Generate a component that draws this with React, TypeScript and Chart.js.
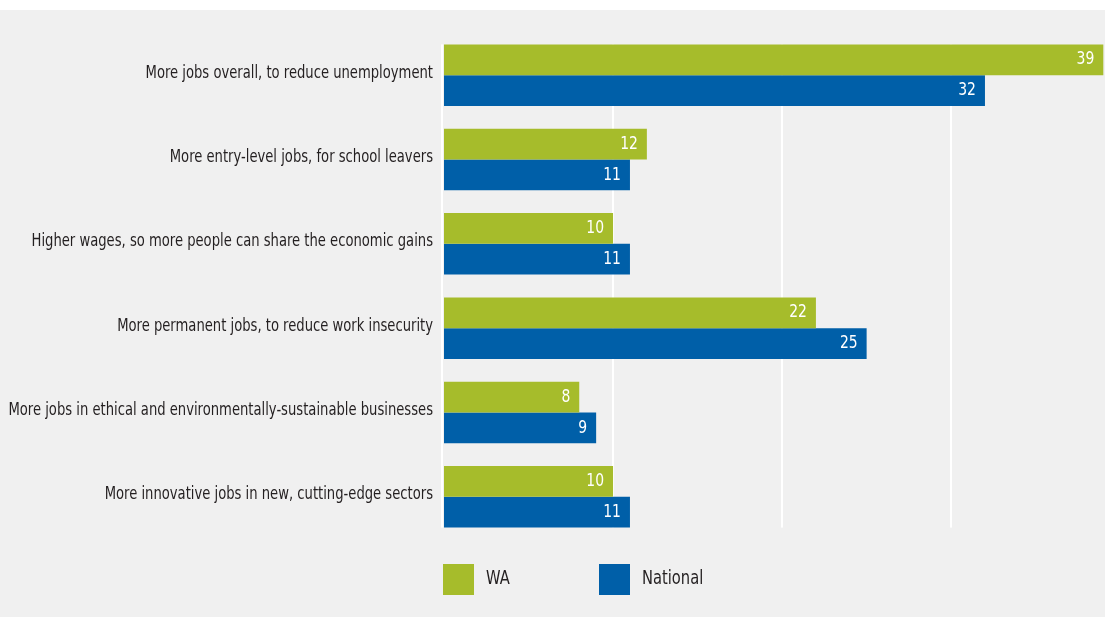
import React, { useEffect, useRef } from "react";
import { Chart, registerables } from "chart.js";

Chart.register(...registerables);

const categories = [
  "More jobs overall, to reduce unemployment",
  "More entry-level jobs, for school leavers",
  "Higher wages, so more people can share the economic gains",
  "More permanent jobs, to reduce work insecurity",
  "More jobs in ethical and environmentally-sustainable businesses",
  "More innovative jobs in new, cutting-edge sectors",
];
const waValues = [39, 12, 10, 22, 8, 10];
const nationalValues = [32, 11, 11, 25, 9, 11];
const gridValues = [0, 10, 20, 30];
const seriesNames = ["WA", "National"];
const colors = ["#a6bc2b", "#005fa8"];

const FONT = "'DejaVu Sans Condensed', 'Liberation Sans Narrow', 'Roboto', sans-serif";
const SQUEEZE = 0.86;

function squeezedText(ctx: CanvasRenderingContext2D, text: string, x: number, y: number) {
  ctx.save();
  ctx.translate(x, y);
  ctx.scale(SQUEEZE, 1);
  ctx.fillText(text, 0, 0);
  ctx.restore();
}

export default function App() {
  const ref = useRef<HTMLCanvasElement | null>(null);
  useEffect(() => {
    document.body.style.margin = "0";
    const canvas = ref.current;
    if (!canvas) return;

    const overlay = {
      id: "overlay",
      beforeDatasetsDraw(chart: any) {
        const { ctx } = chart;
        const x = chart.scales.x;
        const y = chart.scales.y;
        const meta0 = chart.getDatasetMeta(0);
        const meta1 = chart.getDatasetMeta(1);
        const firstBar: any = meta0.data[0];
        const lastBar: any = meta1.data[meta1.data.length - 1];
        const top = firstBar.y - firstBar.height / 2;
        const bottom = lastBar.y + lastBar.height / 2;
        ctx.save();
        ctx.fillStyle = "#ffffff";
        gridValues.forEach((v) => {
          const px = Math.round(x.getPixelForValue(v));
          ctx.fillRect(v === 0 ? px - 3 : px - 1, top, 2, bottom - top);
        });
        // category labels
        ctx.fillStyle = "#231f20";
        ctx.font = `17px ${FONT}`;
        ctx.textAlign = "right";
        ctx.textBaseline = "middle";
        categories.forEach((c, i) => {
          squeezedText(ctx, c, chart.chartArea.left - 11, y.getPixelForValue(i) - 2);
        });
        ctx.restore();
      },
      afterDatasetsDraw(chart: any) {
        const { ctx } = chart;
        ctx.save();
        ctx.fillStyle = "#ffffff";
        ctx.font = `18px ${FONT}`;
        ctx.textAlign = "right";
        ctx.textBaseline = "middle";
        chart.data.datasets.forEach((ds: any, di: number) => {
          const meta = chart.getDatasetMeta(di);
          meta.data.forEach((bar: any, i: number) => {
            squeezedText(ctx, String(ds.data[i]), bar.x - 9, bar.y);
          });
        });
        // legend
        const left = chart.chartArea.left - 1;
        const ly = chart.chartArea.bottom + 25;
        const offsets = [0, 156];
        ctx.textAlign = "left";
        ctx.font = `19px ${FONT}`;
        seriesNames.forEach((name, i) => {
          const lx = left + offsets[i];
          ctx.fillStyle = colors[i];
          ctx.fillRect(lx, ly, 31, 31);
          ctx.fillStyle = "#231f20";
          squeezedText(ctx, name, lx + 43, ly + 15);
        });
        ctx.restore();
      },
    };

    const chart = new Chart(canvas, {
      type: "bar",
      data: {
        labels: categories,
        datasets: [
          { label: seriesNames[0], data: waValues, backgroundColor: colors[0], categoryPercentage: 0.73, barPercentage: 1 },
          { label: seriesNames[1], data: nationalValues, backgroundColor: colors[1], categoryPercentage: 0.73, barPercentage: 1 },
        ],
      },
      options: {
        indexAxis: "y",
        animation: false,
        responsive: false,
        maintainAspectRatio: false,
        layout: { padding: { top: 23, bottom: 78, left: 0, right: 0 } },
        plugins: { legend: { display: false }, tooltip: { enabled: false } },
        scales: {
          x: { display: false, min: 0, max: 39.1 },
          y: {
            grid: { display: false },
            border: { display: false },
            ticks: { display: false },
            afterFit(scale: any) {
              scale.width = 444;
            },
          },
        },
      },
      plugins: [overlay],
    });
    return () => chart.destroy();
  }, []);

  return (
    <div style={{ position: "absolute", top: 10, left: 0, width: 1105, height: 607, background: "#f0f0f0" }}>
      <canvas ref={ref} width={1105} height={607} style={{ display: "block" }} />
    </div>
  );
}
